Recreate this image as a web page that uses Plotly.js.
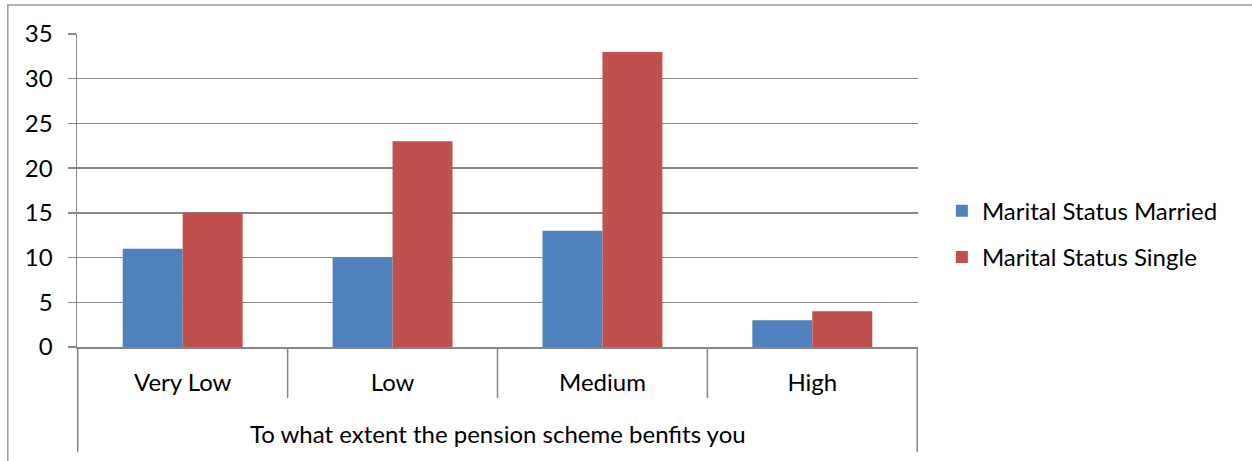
<!DOCTYPE html>
<html>
<head>
<meta charset="utf-8">
<script src="https://cdn.plot.ly/plotly-3.0.1.min.js"></script>
<style>
  html, body { margin: 0; padding: 0; background: #ffffff; }
  #chart { width: 1252px; height: 461px; }
</style>
</head>
<body>
<div id="chart"></div>
<script>
// Survey responses: "To what extent the pension scheme benfits you", by marital status
const categories = ['Very Low', 'Low', 'Medium', 'High'];
const marriedValues = [11, 10, 13, 3];
const singleValues = [15, 23, 33, 4];
const seriesNames = ['Marital Status Married', 'Marital Status Single'];
const groupTitle = 'To what extent the pension scheme benfits you';
const yTicks = [0, 5, 10, 15, 20, 25, 30, 35];

const FONT = 'Lato, "Open Sans", sans-serif';
const FS = 24;
const GRID = '#868686';

const traces = [
  {
    type: 'bar', name: seriesNames[0], x: categories, y: marriedValues,
    marker: { color: '#4F81BD' }, legendgroup: 'a', hoverinfo: 'x+y+name'
  },
  {
    type: 'bar', name: seriesNames[1], x: categories, y: singleValues,
    marker: { color: '#C0504D' }, legendgroup: 'b', hoverinfo: 'x+y+name'
  }
];

// Category divider lines below the axis and the outer bracket of the group label
const dividers = [];
for (let i = 0; i <= categories.length; i++) {
  const outer = (i === 0 || i === categories.length);
  dividers.push({
    type: 'line', xref: 'x', yref: 'paper',
    x0: i - 0.5, x1: i - 0.5, y0: 0, y1: outer ? -0.335 : -0.163,
    line: { color: GRID, width: 1.5 }
  });
}
// Chart-area frame
dividers.push({
  type: 'rect', xref: 'paper', yref: 'paper', layer: 'below',
  x0: -0.0823, x1: 1.5, y0: 1.0926, y1: -0.6,
  line: { color: '#9a9a9a', width: 1.5 }, fillcolor: 'rgba(0,0,0,0)'
});

const layout = {
  width: 1252, height: 461,
  margin: { l: 77, r: 334, t: 34, b: 114 },
  paper_bgcolor: '#ffffff', plot_bgcolor: '#ffffff',
  font: { family: FONT, size: FS, color: '#000000' },
  barmode: 'group', bargap: 0.4286, bargroupgap: 0,
  xaxis: {
    type: 'category', showgrid: false, zeroline: false,
    showline: true, linecolor: GRID, linewidth: 1.5,
    ticks: '', ticklabelstandoff: 14,
    tickfont: { family: FONT, size: FS, color: '#000' }
  },
  yaxis: {
    range: [0, 35], tickvals: yTicks, ticktext: yTicks.map(String),
    showgrid: true, gridcolor: GRID, gridwidth: 1.5,
    zeroline: false, showline: true, linecolor: GRID, linewidth: 1.5,
    ticks: 'outside', ticklen: 8, tickcolor: GRID, tickwidth: 1.5,
    ticklabelstandoff: 10,
    tickfont: { family: FONT, size: FS, color: '#000' }
  },
  legend: {
    x: 1.0284, xanchor: 'left', y: 0.506, yanchor: 'top',
    traceorder: 'grouped', tracegroupgap: 12,
    font: { family: FONT, size: FS, color: '#000' },
    bgcolor: 'rgba(0,0,0,0)', itemclick: false
  },
  annotations: [{
    xref: 'paper', yref: 'paper', x: 0.5, y: -0.276,
    xanchor: 'center', yanchor: 'middle', showarrow: false,
    text: groupTitle, font: { family: FONT, size: FS, color: '#000' }
  }],
  shapes: dividers
};

Plotly.newPlot('chart', traces, layout, { displayModeBar: false, staticPlot: true });
</script>
</body>
</html>
